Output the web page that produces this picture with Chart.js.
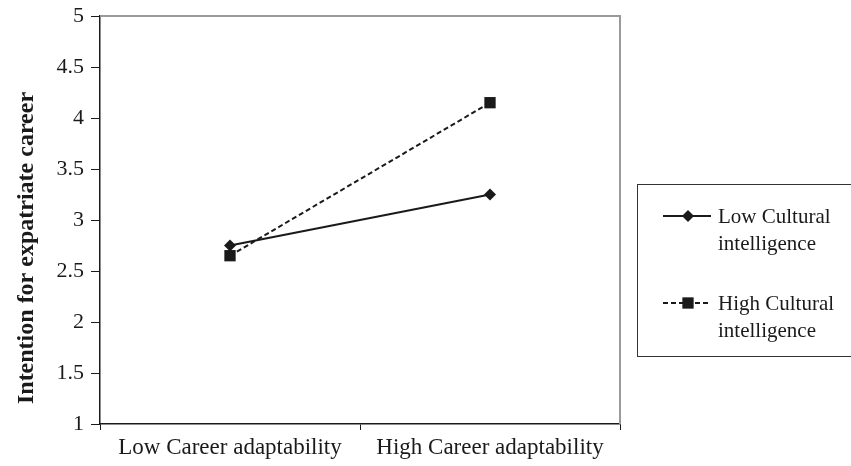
<!DOCTYPE html>
<html>
<head>
<meta charset="utf-8">
<script src="https://cdn.jsdelivr.net/npm/chart.js@4"></script>
<style>
html,body{margin:0;padding:0;background:#fff;}
#wrap{width:851px;height:466px;position:relative;}
</style>
</head>
<body>
<div id="wrap"><canvas id="c" width="851" height="466"></canvas></div>
<script>
const categories = ["Low Career adaptability", "High Career adaptability"];
const lowCQ = [2.75, 3.25];
const highCQ = [2.65, 4.15];
const seriesLabels = [["Low Cultural", "intelligence"], ["High Cultural", "intelligence"]];
const yTitle = "Intention for expatriate career";
const yMin = 1, yMax = 5, yStep = 0.5;

const FONT = "'Liberation Serif', 'Times New Roman', serif";
const INK = '#1a1a1a';

const extras = {
  id: 'extras',
  beforeDatasetsDraw(chart) {
    const {ctx, chartArea: a} = chart;
    ctx.save();
    ctx.strokeStyle = '#9a9a9a';
    ctx.lineWidth = 2;
    ctx.beginPath();
    ctx.moveTo(a.left, a.top);
    ctx.lineTo(a.right, a.top);
    ctx.lineTo(a.right, a.bottom);
    ctx.stroke();
    ctx.restore();
  },
  afterDraw(chart) {
    const {ctx} = chart;
    ctx.save();
    ctx.fillStyle = INK;
    ctx.font = "bold 24px " + FONT;
    ctx.textAlign = 'center';
    ctx.textBaseline = 'middle';
    ctx.translate(27, 248);
    ctx.rotate(-Math.PI / 2);
    ctx.fillText(yTitle, 0, 0);
    ctx.restore();

    ctx.save();
    ctx.strokeStyle = '#333';
    ctx.lineWidth = 1;
    ctx.strokeRect(637.5, 184.5, 230, 172);
    const rows = [216, 303];
    chart.data.datasets.forEach((ds, i) => {
      const y = rows[i];
      ctx.strokeStyle = ds.borderColor;
      ctx.lineWidth = ds.borderWidth;
      ctx.setLineDash(ds.borderDash || []);
      ctx.beginPath();
      ctx.moveTo(663, y);
      ctx.lineTo(711, y);
      ctx.stroke();
      ctx.setLineDash([]);
      ctx.fillStyle = ds.pointBackgroundColor;
      ctx.beginPath();
      const r = ds.pointRadius;
      if (ds.pointStyle === 'rectRot') {
        ctx.moveTo(688, y - r); ctx.lineTo(688 + r, y); ctx.lineTo(688, y + r); ctx.lineTo(688 - r, y); ctx.closePath();
      } else {
        const s = Math.SQRT1_2 * r;
        ctx.rect(688 - s, y - s, 2 * s, 2 * s);
      }
      ctx.fill();
      ctx.fillStyle = INK;
      ctx.font = "21px " + FONT;
      ctx.textAlign = 'left';
      ctx.textBaseline = 'alphabetic';
      ds.labelLines.forEach((t, k) => ctx.fillText(t, 718, y + 7 + k * 27));
    });
    ctx.restore();
  }
};

new Chart(document.getElementById('c'), {
  type: 'line',
  data: {
    labels: categories,
    datasets: [
      {
        label: seriesLabels[0].join(' '),
        labelLines: seriesLabels[0],
        data: lowCQ,
        borderColor: INK,
        borderWidth: 2,
        pointStyle: 'rectRot',
        pointRadius: 6,
        pointBackgroundColor: INK,
        pointBorderColor: INK,
        pointBorderWidth: 0,
        tension: 0
      },
      {
        label: seriesLabels[1].join(' '),
        labelLines: seriesLabels[1],
        data: highCQ,
        borderColor: INK,
        borderWidth: 2,
        borderDash: [5, 3],
        pointStyle: 'rect',
        pointRadius: 8,
        pointBackgroundColor: INK,
        pointBorderColor: INK,
        pointBorderWidth: 0,
        tension: 0
      }
    ]
  },
  options: {
    responsive: false,
    animation: false,
    devicePixelRatio: 1,
    layout: {padding: {top: 16, right: 231, left: 0, bottom: 0}},
    plugins: {legend: {display: false}, tooltip: {enabled: false}},
    scales: {
      x: {
        type: 'category',
        offset: true,
        grid: {offset: true, drawOnChartArea: false, drawTicks: true, tickLength: 6, color: INK, lineWidth: 1},
        border: {color: INK, width: 1.5},
        ticks: {color: INK, font: {family: FONT, size: 23}, padding: 4, maxRotation: 0},
        afterFit(s) { s.height = 42; }
      },
      y: {
        min: yMin, max: yMax,
        grid: {drawOnChartArea: false, drawTicks: true, tickLength: 9, color: INK, lineWidth: 1},
        border: {color: INK, width: 1.5},
        ticks: {stepSize: yStep, color: INK, font: {family: FONT, size: 22}, padding: 7,
          callback: (v) => String(Math.round(v * 10) / 10)},
        afterFit(s) { s.width = 100; s.paddingTop = 0; s.paddingBottom = 0; }
      }
    }
  },
  plugins: [extras]
});
</script>
</body>
</html>
